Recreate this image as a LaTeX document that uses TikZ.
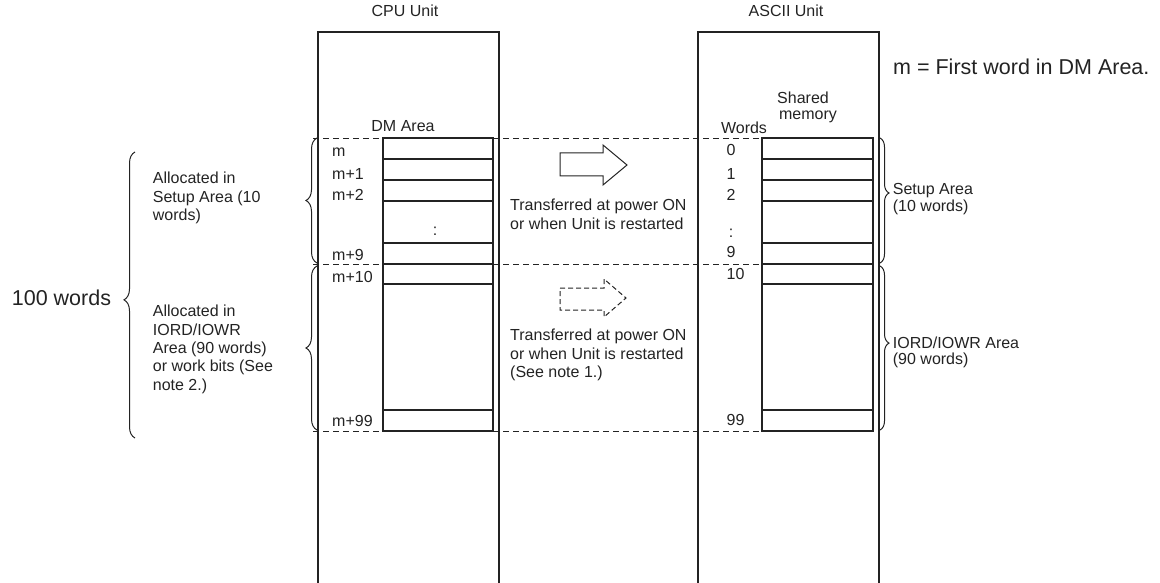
\documentclass[tikz,border=0pt]{standalone}
\usepackage{fontspec}
\setmainfont{Liberation Sans}
\usetikzlibrary{decorations.pathreplacing}
\definecolor{ink}{HTML}{232323}
\begin{document}
\begin{tikzpicture}[x=1pt,y=-1pt,
  txt/.style={font=\fontsize{16}{18.4}\selectfont, inner sep=0pt, text=ink, anchor=base west},
  txtc/.style={font=\fontsize{16}{18.4}\selectfont, inner sep=0pt, text=ink, anchor=base},
  big/.style={font=\fontsize{21.5}{24}\selectfont, inner sep=0pt, text=ink, anchor=base west},
  unitbox/.style={line width=1.2pt, draw=ink},
  tbl/.style={line width=1.2pt, draw=ink},
  sepline/.style={line width=0.9pt, draw=ink, dash pattern=on 6pt off 4pt},
  brc/.style={draw=ink, line width=1pt, decorate, decoration={brace, amplitude=#1}},
  blockarrow/.style={draw=ink, line width=1pt},
]
\useasboundingbox (0,0) rectangle (1160,583);

% unit boxes (open at the bottom)
\draw[unitbox] (318,583) -- (318,32) -- (499,32) -- (499,583);
\draw[unitbox] (698,583) -- (698,32) -- (879,32) -- (879,583);
\node[txtc] (cpu) at (405,17) {CPU Unit};
\node[txtc] (ascii) at (786,17) {ASCII Unit};

% dashed separators
\coordinate (d1a) at (313,138); \coordinate (d1b) at (762,138);
\coordinate (d2a) at (313,264); \coordinate (d2b) at (762,264);
\coordinate (d3a) at (313,431); \coordinate (d3b) at (762,431);
\draw[sepline] (d1a) -- (d1b);
\draw[sepline] (d2a) -- (d2b);
\draw[sepline] (d3a) -- (d3b);

% DM area table
\draw[tbl] (383,138) rectangle (493,431);
\foreach \yy in {159,180,201,243,264,284,410} \draw[tbl] (383,\yy) -- (493,\yy);
% shared memory table
\draw[tbl] (762,138) rectangle (873,431);
\foreach \yy in {159,180,201,243,264,284,410} \draw[tbl] (762,\yy) -- (873,\yy);

% headers
\node[txtc] (dm) at (403,132) {DM Area};
\node[txtc] (words) at (744,134) {Words};
\node[txtc] (shared) at (803,104) {Shared};
\node[txtc] (memory) at (808,120) {memory};

% CPU word labels
\node[txt] (m0) at (332,157) {m};
\node[txt] (m1) at (332,179) {m+1};
\node[txt] (m2) at (332,200.5) {m+2};
\node[txtc] (mdots) at (435,236) {:};
\node[txt] (m9) at (332,260.5) {m+9};
\node[txt] (m10) at (332,282) {m+10};
\node[txt] (m99) at (332,426) {m+99};

% ASCII word labels
\node[txt] (w0) at (726.5,155.7) {0};
\node[txt] (w1) at (726.5,179.7) {1};
\node[txt] (w2) at (726.5,200.7) {2};
\node[txtc] (wdots) at (731,237) {:};
\node[txt] (w9) at (726.5,257.7) {9};
\node[txt] (w10) at (726.5,279.7) {10};
\node[txt] (w99) at (726.5,425.7) {99};

% block arrows
\draw[blockarrow] (560,153) -- (603,153) -- (603,145) -- (627,165) -- (603,185) -- (603,176) -- (560,176) -- cycle;
\draw[blockarrow, dash pattern=on 5pt off 3pt] (560,288) -- (604,288) -- (604,279) -- (626,298) -- (604,317) -- (604,310) -- (560,310) -- cycle;

% transfer texts
\node[txt] (t1a) at (510,210.7) {Transferred at power ON};
\node[txt] (t1b) at (510,229.3) {or when Unit is restarted};
\node[txt] (t2a) at (510,340.7) {Transferred at power ON};
\node[txt] (t2b) at (510,359.3) {or when Unit is restarted};
\node[txt] (t2c) at (510,377.8) {(See note 1.)};

% left braces at CPU unit
\draw[brc=11pt] (317,263) -- (317,138);
\draw[brc=11pt] (317,430) -- (317,266);
% right braces at ASCII unit
\draw[brc=9pt, decoration={aspect=0.44}] (880,138) -- (880,263);
\draw[brc=9pt, decoration={aspect=0.47}] (880,266) -- (880,430);
% big brace
\draw[brc=11pt, decoration={aspect=0.483}] (135,438) -- (135,152);

% left labels
\node[txt] (la1) at (152.7,184) {Allocated in};
\node[txt] (la2) at (152.7,202.7) {Setup Area (10};
\node[txt] (la3) at (152.7,221) {words)};
\node[txt] (lb1) at (152.7,316.7) {Allocated in};
\node[txt] (lb2) at (152.7,335) {IORD/IOWR};
\node[txt] (lb3) at (152.7,353.3) {Area (90 words)};
\node[txt] (lb4) at (152.7,371.7) {or work bits (See};
\node[txt] (lb5) at (152.7,390) {note 2.)};

% right labels
\node[txt] (ra1) at (892.7,195) {Setup Area};
\node[txt] (ra2) at (892.7,211.7) {(10 words)};
\node[txt] (rb1) at (892.7,348.3) {IORD/IOWR Area};
\node[txt] (rb2) at (892.7,364) {(90 words)};

% big labels
\node[big] (hundred) at (11.7,305) {100 words};
\node[big] (note) at (893,75) {m = First word in DM Area.};
\end{tikzpicture}
\end{document}
